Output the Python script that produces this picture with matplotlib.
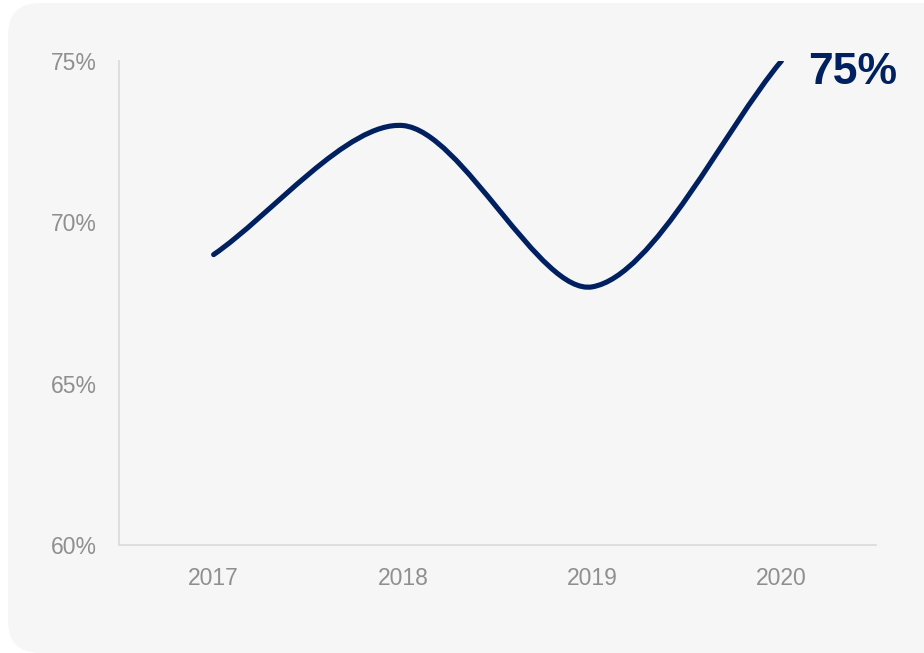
import matplotlib
matplotlib.use("Agg")
import matplotlib.pyplot as plt
from matplotlib.patches import FancyBboxPatch, PathPatch
from matplotlib.path import Path
import numpy as np

# data
years = ["2017", "2018", "2019", "2020"]
share = [69, 73, 68, 75]
y_ticks = [60, 65, 70, 75]
last_label = "75%"

NAVY = "#002060"
GREY_TXT = "#8f8f8f"
AXIS_CLR = "#dcdcdc"
TENSION = 0.3

plt.rcParams["font.family"] = ["Liberation Sans", "DejaVu Sans"]


def smooth_path(ax, xs, ys, tension):
    """Spline through the points, control points computed in screen space
    (same idea as chart.js splineCurve), returned as a data-space Path."""
    pts = ax.transData.transform(np.column_stack([xs, ys]))
    n = len(pts)
    cp_in = pts.copy()
    cp_out = pts.copy()
    for i in range(n):
        prev = pts[max(i - 1, 0)]
        nxt = pts[min(i + 1, n - 1)]
        d01 = np.hypot(*(pts[i] - prev))
        d12 = np.hypot(*(nxt - pts[i]))
        tot = d01 + d12
        fa = tension * d01 / tot if tot else 0
        fb = tension * d12 / tot if tot else 0
        cp_in[i] = pts[i] - fa * (nxt - prev)
        cp_out[i] = pts[i] + fb * (nxt - prev)
    verts = [pts[0]]
    codes = [Path.MOVETO]
    for i in range(n - 1):
        verts += [cp_out[i], cp_in[i + 1], pts[i + 1]]
        codes += [Path.CURVE4] * 3
    verts = ax.transData.inverted().transform(np.array(verts))
    return Path(verts, codes)


fig = plt.figure(figsize=(9.24, 6.53), dpi=100)
fig.patch.set_facecolor("white")

# rounded card behind the chart
card = FancyBboxPatch((8 / 924, 0.0), 1.2, 1 - 3 / 653,
                      boxstyle="round,pad=0,rounding_size=0.035",
                      transform=fig.transFigure, facecolor="#f6f6f6",
                      edgecolor="none", mutation_aspect=924 / 653, zorder=-10)
fig.patches.append(card)

ax = fig.add_axes([119 / 924, 1 - 545 / 653, (876 - 119) / 924, (545 - 61) / 653])
ax.set_facecolor("none")
ax.set_zorder(1)

x = np.arange(len(years))
ax.set_xlim(-0.5, len(years) - 0.5)
ax.set_ylim(60, 75)

ax.add_patch(PathPatch(smooth_path(ax, x, share, TENSION), facecolor="none",
                       edgecolor=NAVY, linewidth=3.7, capstyle="round",
                       joinstyle="round", zorder=3))

ax.set_xticks(x)
ax.set_xticklabels(years)
ax.set_yticks(y_ticks)
ax.set_yticklabels([f"{v}%" for v in y_ticks])
ax.tick_params(axis="both", length=0, labelsize=16.5, labelcolor=GREY_TXT)
ax.tick_params(axis="x", pad=16)
ax.tick_params(axis="y", pad=16)

for side in ["top", "right"]:
    ax.spines[side].set_visible(False)
for side in ["left", "bottom"]:
    ax.spines[side].set_color(AXIS_CLR)
    ax.spines[side].set_linewidth(1.3)

ax.annotate(last_label, xy=(x[-1], share[-1]), xytext=(19, -8),
            textcoords="offset points", ha="left", va="center",
            fontsize=32, fontweight="bold", color=NAVY, annotation_clip=False)

fig.savefig("out.png", dpi=100)
